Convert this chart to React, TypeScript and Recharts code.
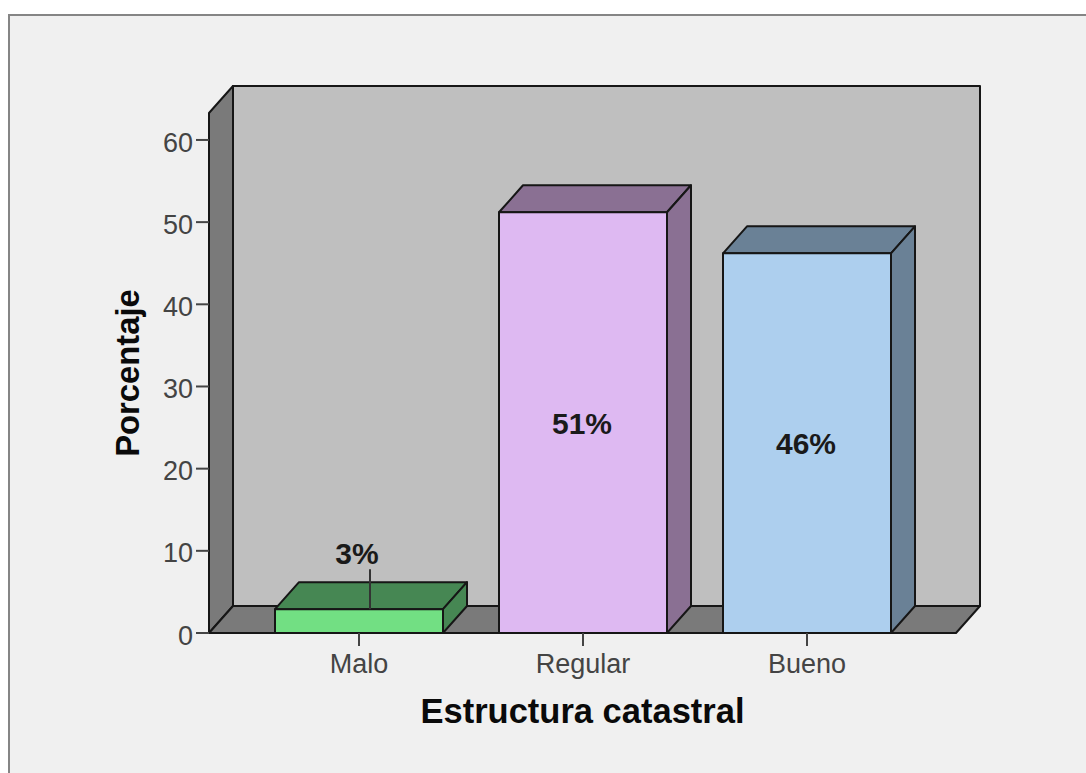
import { BarChart, Bar, XAxis, YAxis, Label, LabelList, usePlotArea } from 'recharts';

const categories = ['Malo', 'Regular', 'Bueno'];
const percentages = [2.9, 51.2, 46.2];
const valueLabels = ['3%', '51%', '46%'];
const yTicks = [0, 10, 20, 30, 40, 50, 60];
const frontColors = ['#72DF83', '#DEB9F2', '#ADCFEE'];
const sideColors = ['#468753', '#8A7093', '#6A8196'];

const data = categories.map((name, i) => ({ name, value: percentages[i], label: valueLabels[i] }));

// 3D offset of the SPSS style box
const DX = 24;
const DY = 27;
const EDGE = '#161616';
const FONT = '"Liberation Sans", Arial, sans-serif';

function Walls() {
  const plot = usePlotArea();
  if (!plot) return null;
  const { x, y, width: w, height: h } = plot;
  const b = y + h;
  return (
    <g stroke={EDGE} strokeWidth={2} strokeLinejoin="round">
      <polygon points={`${x + DX},${y - DY} ${x + w + DX},${y - DY} ${x + w + DX},${b - DY} ${x + DX},${b - DY}`} fill="#BFBFBF" />
      <polygon points={`${x},${y} ${x + DX},${y - DY} ${x + DX},${b - DY} ${x},${b}`} fill="#7A7A7A" />
      <polygon points={`${x},${b} ${x + DX},${b - DY} ${x + w + DX},${b - DY} ${x + w},${b}`} fill="#7A7A7A" />
    </g>
  );
}

function Box3D(props: any) {
  const { x, y, width: w, height: h, index } = props;
  return (
    <g stroke={EDGE} strokeWidth={2} strokeLinejoin="round">
      <polygon points={`${x},${y} ${x + DX},${y - DY} ${x + w + DX},${y - DY} ${x + w},${y}`} fill={sideColors[index]} />
      <polygon points={`${x + w},${y} ${x + w + DX},${y - DY} ${x + w + DX},${y + h - DY} ${x + w},${y + h}`} fill={sideColors[index]} />
      <rect x={x} y={y} width={w} height={h} fill={frontColors[index]} />
    </g>
  );
}

function BoxLabel(props: any) {
  const { x, y, width: w, height: h, index } = props;
  const cx = x + w / 2;
  const text = valueLabels[index];
  const style = { fontFamily: FONT, fontSize: 30, fontWeight: 700, fill: '#1a1a1a' };
  if (h < 40) {
    // small bar: label sits above with a leader line
    return (
      <g>
        <line x1={cx + DX / 2 - 1} x2={cx + DX / 2 - 1} y1={y - 40} y2={y} stroke="#333" strokeWidth={2} />
        <text x={cx - 2} y={y - 45} textAnchor="middle" style={style}>{text}</text>
      </g>
    );
  }
  return (
    <text x={cx - 1} y={y + h / 2 + 11} textAnchor="middle" style={style}>{text}</text>
  );
}

export default function App() {
  return (
    <div style={{ position: 'absolute', left: 0, top: 0, width: 1086, height: 773, background: '#fff', overflow: 'hidden' }}>
      <div
        style={{
          position: 'absolute',
          left: 8,
          top: 14,
          width: 1078,
          height: 759,
          background: '#F0F0F0',
          borderTop: '2px solid #858585',
          borderLeft: '2px solid #858585',
          boxSizing: 'border-box',
        }}
      />
      <div style={{ position: 'absolute', left: 0, top: 0 }}>
        <BarChart
          width={1086}
          height={773}
          data={data}
          margin={{ top: 113, right: 130, bottom: 40, left: 109 }}
          barSize={168}
        >
          <Walls />
          <XAxis
            dataKey="name"
            padding={{ left: 38, right: 37 }}
            height={100}
            axisLine={false}
            interval={0}
            tickSize={13}
            tickMargin={8}
            tickLine={{ stroke: '#444', strokeWidth: 2 }}
            tick={{ fontSize: 27, fontFamily: FONT, fill: '#444' }}
          >
            <Label
              value="Estructura catastral"
              position="insideBottom"
              offset={10}
              style={{ fontFamily: FONT, fontSize: 34.5, fontWeight: 700, fill: '#0a0a0a' }}
            />
          </XAxis>
          <YAxis
            domain={[0, 63.28]}
            ticks={yTicks}
            width={100}
            allowDataOverflow
            axisLine={false}
            tickSize={13}
            tickMargin={3}
            tickLine={{ stroke: '#444', strokeWidth: 2 }}
            tick={{ fontSize: 27, fontFamily: FONT, fill: '#444', dy: 2 }}
          >
            <Label
              value="Porcentaje"
              angle={-90}
              position="insideLeft"
              offset={18}
              style={{ textAnchor: 'middle', fontFamily: FONT, fontSize: 32.8, fontWeight: 700, fill: '#0a0a0a' }}
            />
          </YAxis>
          <Bar dataKey="value" isAnimationActive={false} shape={<Box3D />}>
            <LabelList dataKey="label" content={<BoxLabel />} />
          </Bar>
        </BarChart>
      </div>
    </div>
  );
}
